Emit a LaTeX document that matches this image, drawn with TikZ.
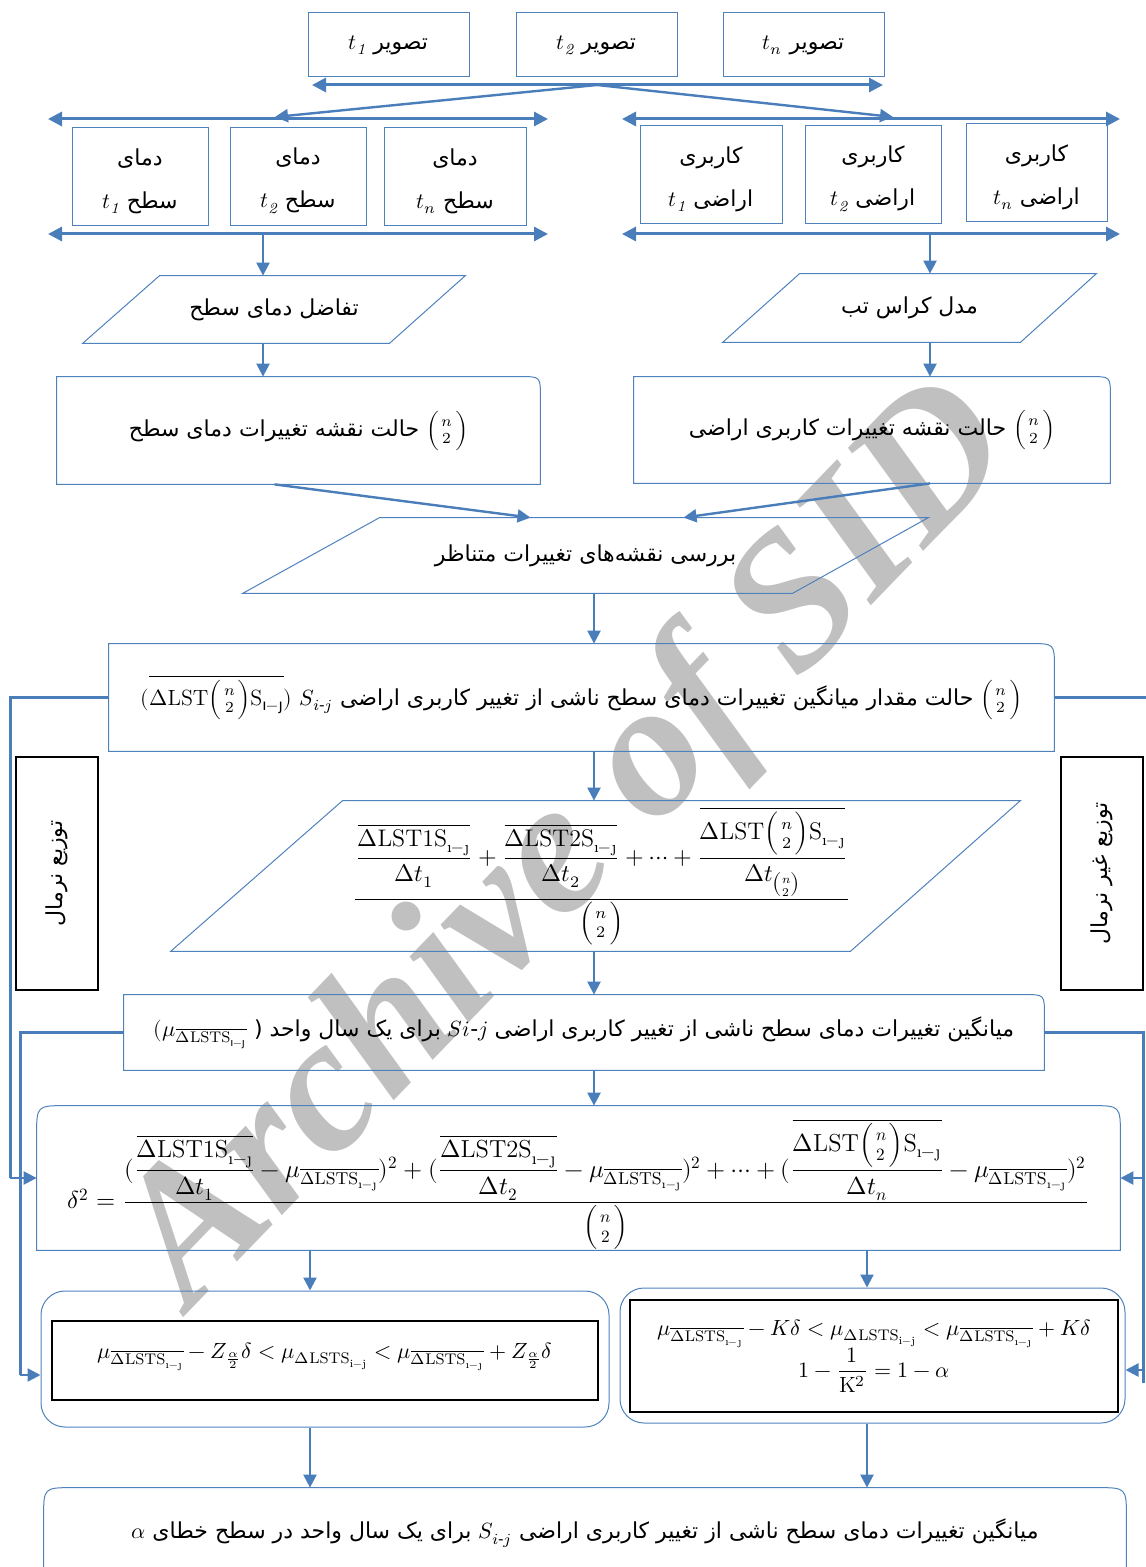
\documentclass[tikz,border=0pt]{standalone}
\usepackage{amsmath}
\usepackage{fontspec}
\usepackage{unicode-math}
\newfontfamily\fafont[Script=Arabic]{DejaVu Sans}
\newfontfamily\wmfont{Liberation Serif}
\TeXXeTstate=1
\usetikzlibrary{arrows.meta,calc,fit}
\definecolor{lineblue}{RGB}{74,126,187}
\definecolor{boxblue}{RGB}{79,129,189}
\definecolor{wmgray}{RGB}{192,192,192}
\newcommand{\fa}[1]{\beginR #1\endR}
\newcommand{\Sij}{\mathrm{S}_{\text{\i}-\text{\j}}}
\newcommand{\mub}{\mu_{\overline{\Delta\mathrm{LSTS}_{\text{\i}-\text{\j}}}}}
\newcommand{\muij}{\mu_{\Delta\mathrm{LSTS}_{\mathrm{i-j}}}}
\newcommand{\nk}{\Bigl(\genfrac{}{}{0pt}{1}{n}{2}\Bigr)}
\newcommand{\roundTR}[2]{\draw[frame] (#1.south west) -- (#1.north west) -- ([xshift=-#2]#1.north east) .. controls (#1.north east) .. ([yshift=-#2]#1.north east) -- (#1.south east) -- cycle;}
\newcommand{\roundT}[2]{\draw[frame] (#1.south west) -- ([yshift=-#2]#1.north west) .. controls (#1.north west) .. ([xshift=#2]#1.north west) -- ([xshift=-#2]#1.north east) .. controls (#1.north east) .. ([yshift=-#2]#1.north east) -- (#1.south east) -- cycle;}
\begin{document}
\begin{tikzpicture}[x=0.5pt,y=-0.5pt,
  box/.style={draw=boxblue,line width=0.5pt,inner sep=0pt},
  area/.style={inner sep=0pt},
  blk/.style={draw=black,line width=0.7pt,inner sep=0pt},
  txt/.style={inner sep=0pt,align=center,font=\fafont\fontsize{11}{21.5}\selectfont},
  frame/.style={draw=boxblue,line width=0.5pt},
  arr/.style={draw=lineblue,line width=1.2pt,-{Triangle[length=6.5pt,width=6.5pt]}},
  bus/.style={draw=lineblue,line width=1.5pt,{Triangle[length=7pt,width=7pt]}-{Triangle[length=7pt,width=7pt]}},
  loop/.style={draw=lineblue,line width=1.5pt},
  eq/.style={inner sep=0pt,align=center,font=\fontsize{12}{14}\selectfont},
  eqs/.style={inner sep=0pt,align=center,font=\fontsize{11}{13}\selectfont}]
  \useasboundingbox (0,0) rectangle (1145,1567);

  % watermark
  \node[rotate=46,text=wmgray,font=\wmfont\bfseries\itshape\fontsize{96}{96}\selectfont] (wmk) at (572,848) {Archive of SID};

  % images
  \node[box,fit={(308,13) (469,77)}] (img1) {};
  \node[box,fit={(516,13) (677,77)}] (img2) {};
  \node[box,fit={(723,13) (884,77)}] (imgn) {};
  \node[txt] (img1t) at (img1) {\fa{تصویر \beginL$t_{\mathit{1}}$\endL}};
  \node[txt] (img2t) at (img2) {\fa{تصویر \beginL$t_{\mathit{2}}$\endL}};
  \node[txt] (imgnt) at (imgn) {\fa{تصویر \beginL$t_{n}$\endL}};
  \coordinate (b0l) at (312,85);
  \coordinate (b0r) at (883,85);
  \coordinate (b0m) at (597,85);
  \draw[bus] (b0l) -- (b0r);

  % surface temperature and land use
  \coordinate (b1l) at (48,119);
  \coordinate (b1r) at (548,119);
  \coordinate (b1t) at (275,117);
  \coordinate (b2l) at (622,119);
  \coordinate (b2r) at (1120,119);
  \coordinate (b2t) at (893,117);
  \draw[bus] (b1l) -- (b1r);
  \draw[bus] (b2l) -- (b2r);
  \draw[arr] (b0m) -- (b1t);
  \draw[arr] (b0m) -- (b2t);
  \node[box,fit={(72,128) (208,226)}] (st1) {};
  \node[box,fit={(230,128) (366,226)}] (st2) {};
  \node[box,fit={(384,128) (526,226)}] (stn) {};
  \node[box,fit={(640,126) (782,224)}] (lu1) {};
  \node[box,fit={(805,126) (941,224)}] (lu2) {};
  \node[box,fit={(966,124) (1107,222)}] (lun) {};
  \node[txt] (st1t) at ([yshift=-2pt]st1) {\fa{دمای}\\\fa{سطح \beginL$t_{\mathit{1}}$\endL}};
  \node[txt] (st2t) at ([yshift=-2pt]st2) {\fa{دمای}\\\fa{سطح \beginL$t_{\mathit{2}}$\endL}};
  \node[txt] (stnt) at ([yshift=-2pt]stn) {\fa{دمای}\\\fa{سطح \beginL$t_{n}$\endL}};
  \node[txt] (lu1t) at ([yshift=-2pt]lu1) {\fa{کاربری}\\\fa{اراضی \beginL$t_{\mathit{1}}$\endL}};
  \node[txt] (lu2t) at ([yshift=-2pt]lu2) {\fa{کاربری}\\\fa{اراضی \beginL$t_{\mathit{2}}$\endL}};
  \node[txt] (lunt) at ([yshift=-2pt]lun) {\fa{کاربری}\\\fa{اراضی \beginL$t_{n}$\endL}};
  \coordinate (b3l) at (48,234);
  \coordinate (b3r) at (548,234);
  \coordinate (b3m) at (263,234);
  \coordinate (b4l) at (622,234);
  \coordinate (b4r) at (1120,234);
  \coordinate (b4m) at (930,234);
  \draw[bus] (b3l) -- (b3r);
  \draw[bus] (b4l) -- (b4r);

  % difference and cross-tab
  \node[area,fit={(83,276) (465,343)}] (dif) {};
  \draw[frame] ($(dif.north west)+(77,0)$) -- (dif.north east) -- ($(dif.south east)+(-76,0)$) -- (dif.south west) -- cycle;
  \node[txt] (dift) at (dif) {\fa{تفاضل دمای سطح}};
  \node[area,fit={(723,274) (1096,342)}] (crs) {};
  \draw[frame] ($(crs.north west)+(77,0)$) -- (crs.north east) -- ($(crs.south east)+(-76,0)$) -- (crs.south west) -- cycle;
  \node[txt] (crst) at (crs) {\fa{مدل کراس تب}};
  \draw[arr] (b3m) -- (b3m |- dif.north);
  \draw[arr] (b4m) -- (b4m |- crs.north);

  % change maps
  \node[area,fit={(57,377) (540,484)}] (mapT) {};
  \roundTR{mapT}{10pt}
  \node[txt] (mapTt) at (mapT) {\fa{\beginL$\nk$\endL{} حالت نقشه تغییرات دمای سطح}};
  \node[area,fit={(634,377) (1110,483)}] (mapL) {};
  \roundTR{mapL}{10pt}
  \node[txt] (mapLt) at (mapL) {\fa{\beginL$\nk$\endL{} حالت نقشه تغییرات کاربری اراضی}};
  \draw[arr] (b3m |- dif.south) -- (b3m |- mapT.north);
  \draw[arr] (b4m |- crs.south) -- (b4m |- mapL.north);

  % matching maps
  \node[area,fit={(243,518) (928,593)}] (cmp) {};
  \draw[frame] ($(cmp.north west)+(137,0)$) -- (cmp.north east) -- ($(cmp.south east)+(-136,0)$) -- (cmp.south west) -- cycle;
  \node[txt] (cmpt) at (cmp) {\fa{بررسی نقشه‌های تغییرات متناظر}};
  \draw[arr] ($(mapT.south)+(-24,0)$) -- ($(cmp.north)+(-55,0)$);
  \draw[arr] ($(mapL.south)+(58,0)$) -- ($(cmp.north)+(98,0)$);
  \coordinate (ax) at (594,0);

  % mean change
  \node[area,fit={(109,644) (1054,751)}] (avg) {};
  \roundTR{avg}{12pt}
  \node[txt] (avgt) at (avg) {\fa{\beginL$\nk$\endL{} حالت مقدار میانگین تغییرات دمای سطح ناشی از تغییر کاربری اراضی \beginL$S_{i\text{-}j}$\endL{} \beginL$(\overline{\Delta\mathrm{LST}\nk\Sij})$\endL}};
  \draw[arr] (ax |- cmp.south) -- (ax |- avg.north);
  \node[area,fit={(171,801) (1020,951)}] (frm) {};
  \draw[frame] ($(frm.north west)+(172,0)$) -- (frm.north east) -- ($(frm.south east)+(-170,0)$) -- (frm.south west) -- cycle;
  \node[eq] (frmt) at ([xshift=3pt]frm) {$\dfrac{\dfrac{\overline{\Delta\mathrm{LST1}\Sij}}{\Delta t_1}+\dfrac{\overline{\Delta\mathrm{LST2}\Sij}}{\Delta t_2}+\cdots+\dfrac{\overline{\Delta\mathrm{LST}\nk\Sij}}{\Delta t_{\binom{n}{2}}}}{\nk}$};
  \draw[arr] (ax |- avg.south) -- (ax |- frm.north);
  \node[area,fit={(124,995) (1044,1070)}] (yr) {};
  \roundTR{yr}{10pt}
  \node[txt] (yrt) at (yr) {\fa{میانگین تغییرات دمای سطح ناشی از تغییر کاربری اراضی \beginL$Si\text{-}j$\endL{} برای یک سال واحد \beginL$(\mub$ (\endL}};
  \draw[arr] (ax |- frm.south) -- (ax |- yr.north);

  % variance
  \node[area,fit={(37,1106) (1120,1250)}] (dlt) {};
  \roundT{dlt}{15pt}
  \node[eq,font=\fontsize{12.3}{14}\selectfont] (dltt) at ([yshift=-3pt]dlt) {$\delta^2=\dfrac{(\dfrac{\overline{\Delta\mathrm{LST1}\Sij}}{\Delta t_1}-\mub)^2+(\dfrac{\overline{\Delta\mathrm{LST2}\Sij}}{\Delta t_2}-\mub)^2+\cdots+(\dfrac{\overline{\Delta\mathrm{LST}\nk\Sij}}{\Delta t_n}-\mub)^2}{\nk}$};
  \draw[arr] (ax |- yr.south) -- (ax |- dlt.north);

  % distributions
  \node[blk,fit={(16,757) (98,990)}] (nrm) {};
  \node[txt,rotate=90] (nrmt) at (nrm) {\fa{توزیع نرمال}};
  \node[blk,fit={(1061,757) (1143,990)}] (gnr) {};
  \node[txt,rotate=90] (gnrt) at (gnr) {\fa{توزیع غیر نرمال}};

  % intervals
  \node[box,rounded corners=12pt,fit={(41,1291) (609,1427)}] (nci) {};
  \node[blk,fit={(52,1321) (598,1400)}] (ncin) {};
  \node[eqs] (ncit) at ([yshift=2pt]ncin) {$\mub-Z_{\frac{\alpha}{2}}\delta<\muij<\mub+Z_{\frac{\alpha}{2}}\delta$};
  \node[box,rounded corners=12pt,fit={(620,1288) (1125,1423)}] (chb) {};
  \node[blk,fit={(630,1300) (1118,1412)}] (chbin) {};
  \node[eqs] (chbt) at (chbin) {$\mub-K\delta<\muij<\mub+K\delta$\\[-1pt]$1-\dfrac{1}{\mathrm{K}^2}=1-\alpha$};
  \coordinate (lx) at (310,0);
  \coordinate (rx) at (867,0);
  \draw[arr] (lx |- dlt.south) -- (lx |- nci.north);
  \draw[arr] (rx |- dlt.south) -- (rx |- chb.north);

  % result
  \node[area,fit={(44,1488) (1126,1578)}] (res) {};
  \roundT{res}{15pt}
  \node[txt] (rest) at (res) {\fa{میانگین تغییرات دمای سطح ناشی از تغییر کاربری اراضی \beginL$S_{i\text{-}j}$\endL{} برای یک سال واحد در سطح خطای \beginL$\alpha$\endL}};
  \draw[arr] (lx |- nci.south) -- (lx |- res.north);
  \draw[arr] (rx |- chb.south) -- (rx |- res.north);

  % loops
  \coordinate (lp1) at (10,0);
  \coordinate (lp2) at (20,1375);
  \coordinate (rp1) at (1147,0);
  \coordinate (rp2) at (1143,1383);
  \coordinate (rp3) at (1143,1370);
  \draw[loop] (avg.west) -- (lp1 |- avg.west) -- (lp1 |- dlt.west);
  \draw[arr] (lp1 |- dlt.west) -- (dlt.west);
  \draw[loop] (yr.west) -- (lp2 |- yr.west) -- (lp2);
  \draw[arr] (lp2) -- (nci.west |- lp2);
  \draw[loop] (avg.east) -- (rp1 |- avg.east);
  \draw[loop] (yr.east) -- (rp2 |- yr.east) -- (rp2);
  \draw[arr] (rp2 |- dlt.east) -- (dlt.east);
  \draw[arr] (rp3) -- (chb.east |- rp3);
\end{tikzpicture}
\end{document}
